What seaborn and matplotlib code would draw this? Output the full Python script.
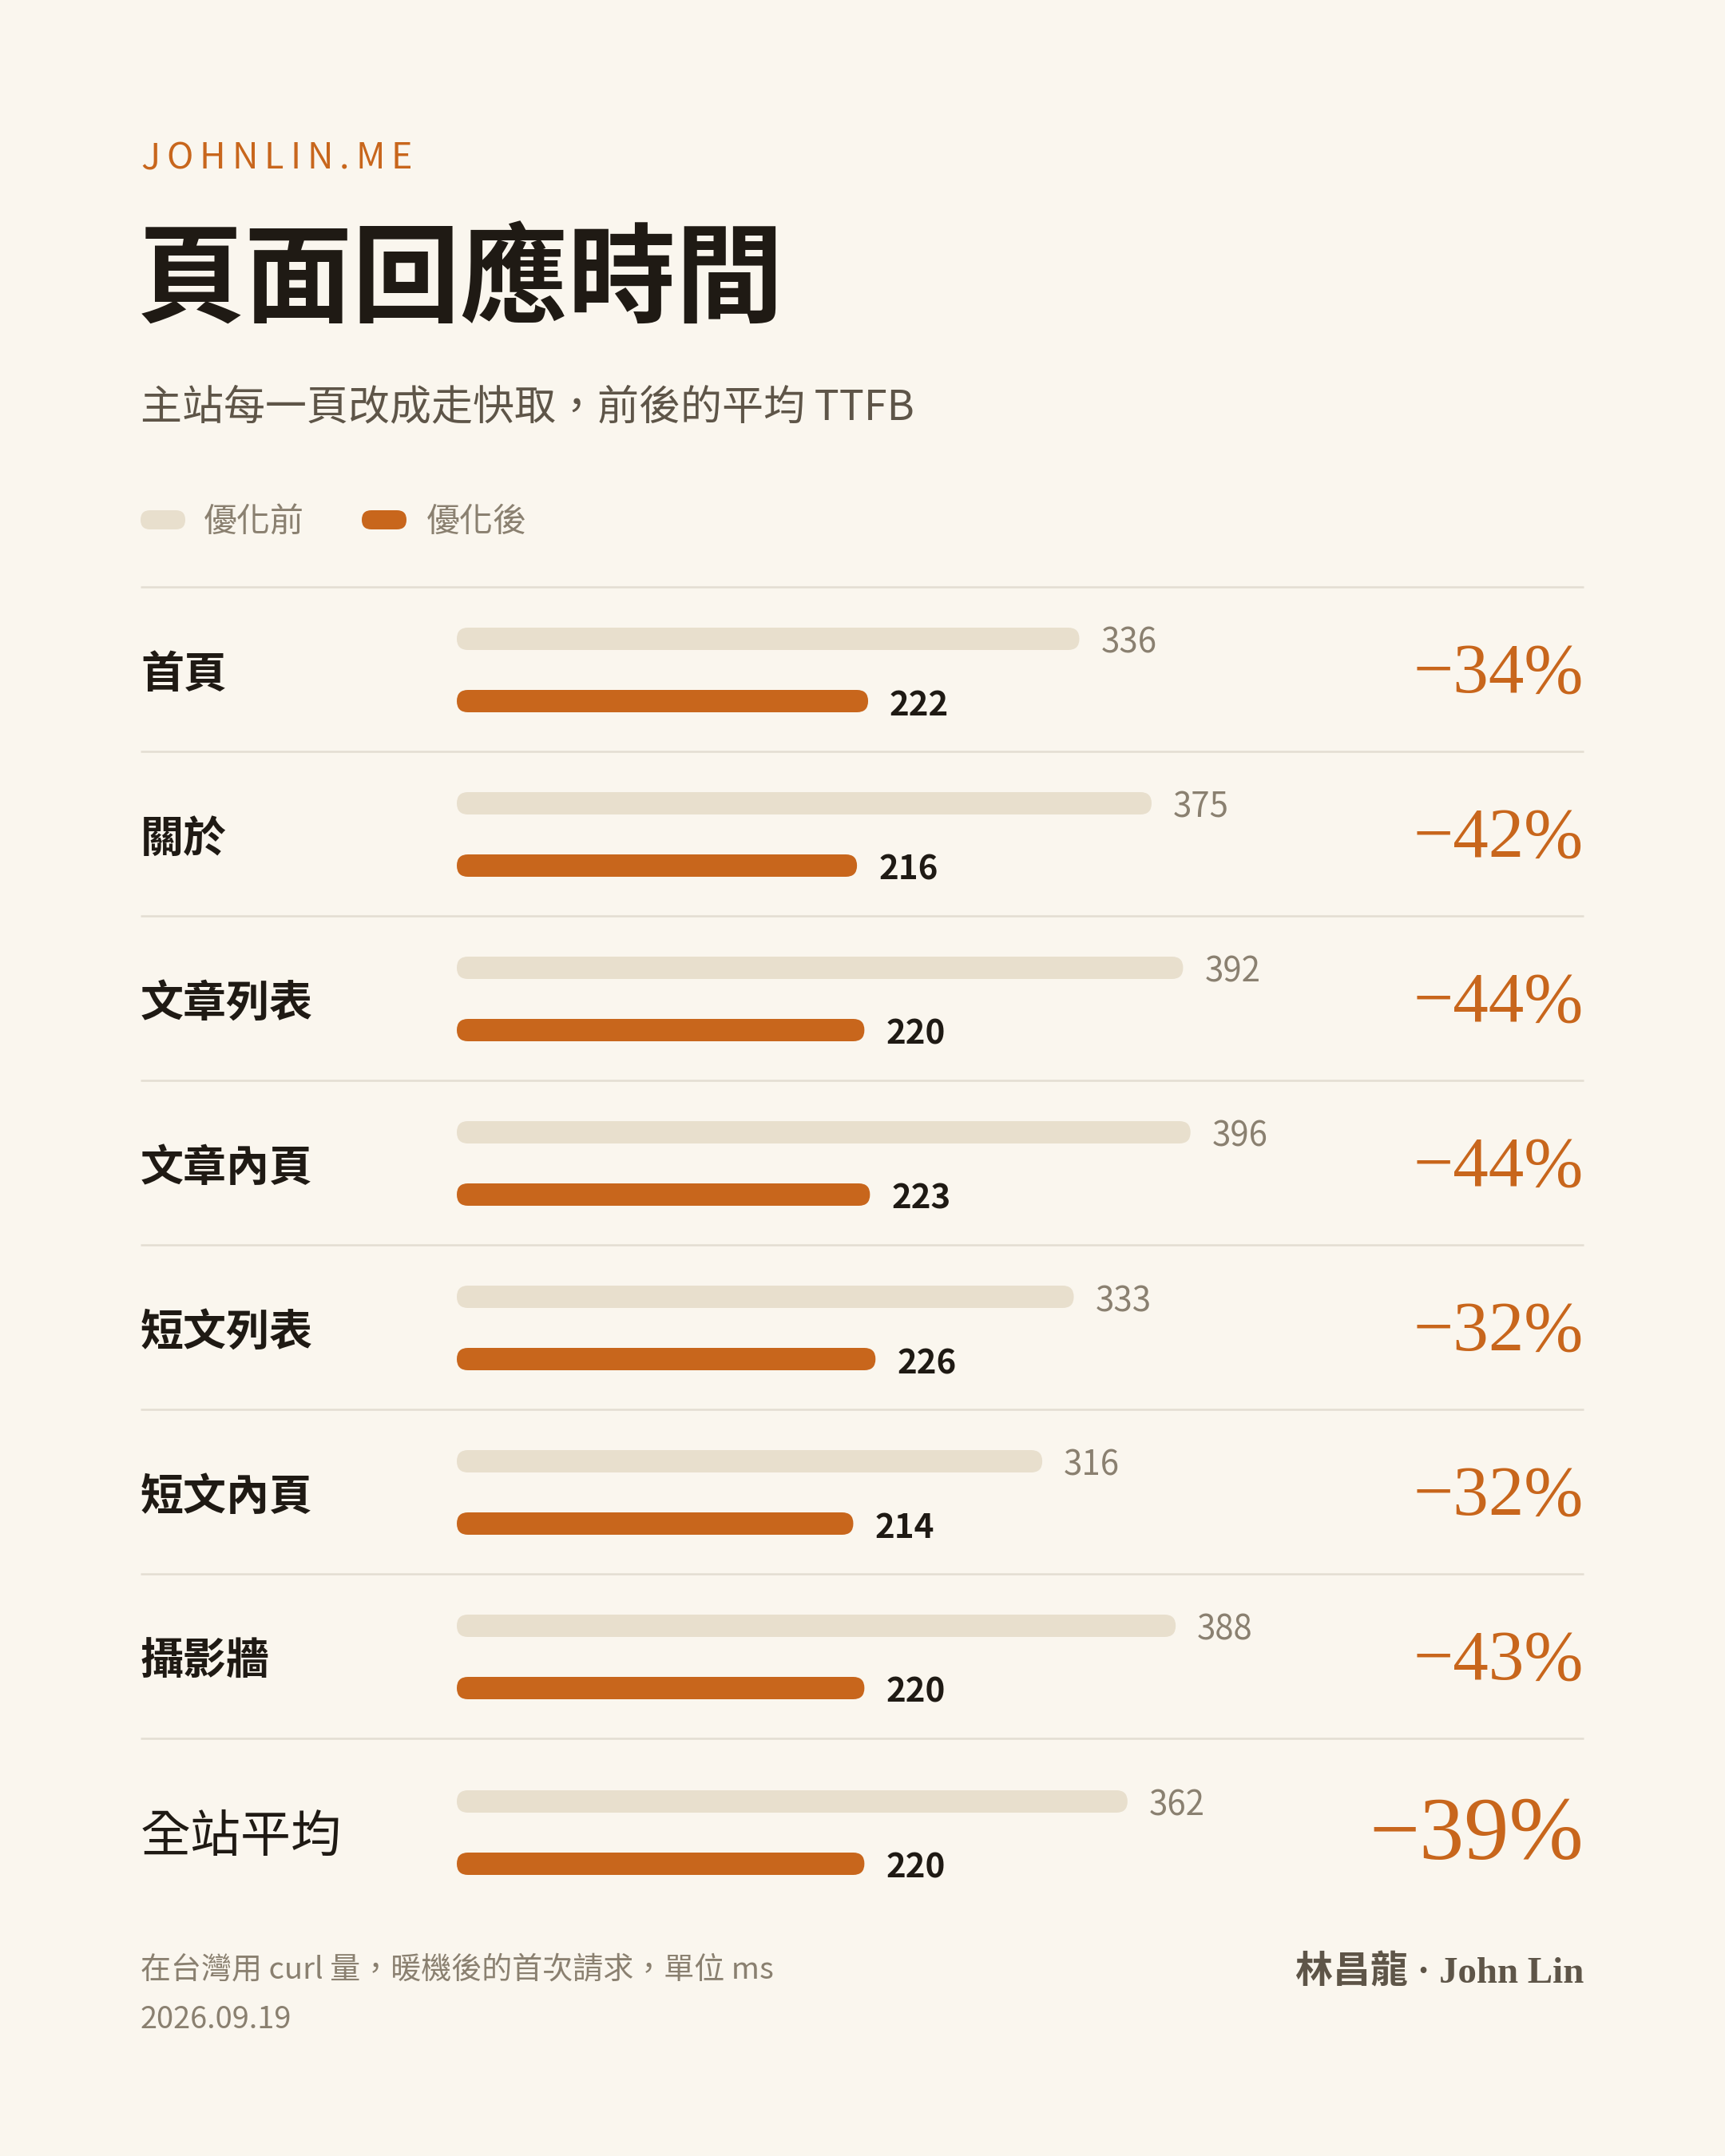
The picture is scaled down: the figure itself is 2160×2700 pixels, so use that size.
import matplotlib
matplotlib.use("Agg")
import matplotlib.pyplot as plt
from matplotlib.patches import FancyBboxPatch
import pandas as pd
import seaborn as sns

# 資料
rows = ["首頁", "關於", "文章列表", "文章內頁", "短文列表", "短文內頁", "攝影牆", "全站平均"]
before_ms = [336, 375, 392, 396, 333, 316, 388, 362]
after_ms = [222, 216, 220, 223, 226, 214, 220, 220]
change_pct = [-34, -42, -44, -44, -32, -32, -43, -39]
series = ["優化前", "優化後"]

# 顏色
BG = "#faf6ee"
ORANGE = "#c8661c"
LIGHT = "#e8dfcd"
INK = "#1f1a14"
MUTED = "#8a8070"
SUB = "#5e5548"
RULE = "#e3ddd2"

W, H, DPI = 2160, 2700, 100


def pt(px):
    return px * 72 / DPI


sns.set_theme(style="white")
plt.rcParams['font.family'] = ['Noto Sans CJK TC', 'DejaVu Sans']
plt.rcParams['axes.unicode_minus'] = False

fig = plt.figure(figsize=(W / DPI, H / DPI), dpi=DPI, facecolor=BG)
bg = fig.add_axes([0, 0, 1, 1], zorder=0)
bg.set_xlim(0, W)
bg.set_ylim(H, 0)
bg.axis('off')
bg.set_facecolor(BG)

LEFT, RIGHT = 176, 1983
BAR_X0 = 572
PX_PER_MS = 2.32
GAP = 78
BAR_H = 28

# ✅ 上方標題區
renderer = fig.canvas.get_renderer()
x = LEFT
for ch in "JOHNLIN.ME":
    t = bg.text(x, 198, ch, fontsize=pt(45), color=ORANGE, weight='medium', va='center', ha='left')
    x += t.get_window_extent(renderer).width + 8

bg.text(LEFT - 4, 354, "頁面回應時間", fontsize=pt(135), weight='bold', color=INK, va='center')
bg.text(LEFT, 511, "主站每一頁改成走快取，前後的平均 TTFB", fontsize=pt(52), color=SUB, va='center')

# 圖例
for sx, lx, col, lab in [(176, 255, LIGHT, series[0]), (453, 534, ORANGE, series[1])]:
    bg.add_patch(FancyBboxPatch((sx, 651 - 12), 56, 24, boxstyle="round,pad=0,rounding_size=12",
                                fc=col, ec='none'))
    bg.text(lx, 654, lab, fontsize=pt(42), color=MUTED, va='center')

# ✅ 各列
row_tops = [735 + 206 * i for i in range(7)] + [2177]
before_off = [65] * 7 + [79]
asp = PX_PER_MS / GAP

for i, name in enumerate(rows):
    top = row_tops[i]
    c0 = top + before_off[i]
    bg.plot([LEFT, RIGHT], [top, top], color=RULE, lw=pt(2.5), solid_capstyle='butt')

    ax = fig.add_axes([BAR_X0 / W, 1 - (c0 + GAP * 1.5) / H, (RIGHT - BAR_X0) / W, 2 * GAP / H], zorder=2)
    df = pd.DataFrame({"series": series, "ms": [before_ms[i], after_ms[i]]})
    sns.barplot(data=df, x="ms", y="series", hue="series", order=series, hue_order=series,
                palette=[LIGHT, ORANGE], width=BAR_H / GAP, saturation=1, legend=False, ax=ax)
    ax.set_xlim(0, (RIGHT - BAR_X0) / PX_PER_MS)
    ax.set_ylim(1.5, -0.5)
    ax.axis('off')
    ax.patch.set_alpha(0)

    for j, p in enumerate(list(ax.patches)):
        px, py, pw, ph = p.get_x(), p.get_y(), p.get_width(), p.get_height()
        fc = p.get_facecolor()
        r = ph / asp / 2
        p.remove()
        ax.add_patch(FancyBboxPatch((px, py), pw, ph, boxstyle=f"round,pad=0,rounding_size={r}",
                                    mutation_aspect=asp, fc=fc, ec='none'))
        is_after = abs(py + ph / 2 - 1) < 0.3
        ax.annotate(f"{int(round(pw))}", xy=(pw, py + ph / 2), xytext=(pt(27), pt(-6)),
                    textcoords='offset points', va='center', ha='left', fontsize=pt(42),
                    color=INK if is_after else MUTED, weight='semibold' if is_after else 'normal',
                    annotation_clip=False)

    mid = c0 + GAP / 2 + 6
    last = i == len(rows) - 1
    bg.text(LEFT, mid, name, fontsize=pt(63 if last else 54), weight='normal' if last else 'bold',
            color=INK, va='center', ha='left')
    bg.text(RIGHT, mid, f"−{abs(change_pct[i])}%", fontsize=pt(112 if last else 89),
            family=['Liberation Serif', 'DejaVu Serif'], color=ORANGE, va='center', ha='right')

# ✅ 註腳
bg.text(LEFT, 2467, "在台灣用 curl 量，暖機後的首次請求，單位 ms", fontsize=pt(38), color=MUTED, va='center')
bg.text(LEFT, 2529, "2026.09.19", fontsize=pt(38), color=MUTED, va='center')
bg.text(RIGHT, 2471, "林昌龍 · John Lin", fontsize=pt(47), weight='bold', color=SUB,
        family=['Liberation Serif', 'Noto Sans CJK TC'], va='center', ha='right')

plt.savefig("out.png", dpi=DPI, facecolor=BG)
